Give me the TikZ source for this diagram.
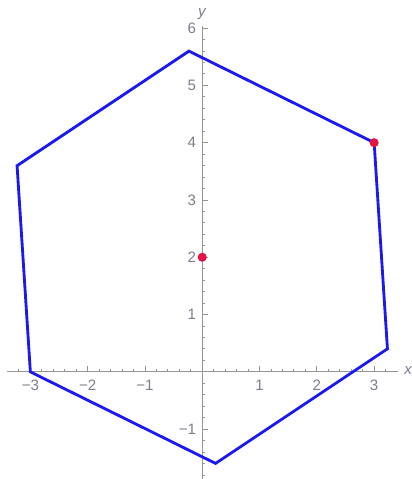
\documentclass[tikz,border=0pt]{standalone}
\usepackage{fontspec}
\setmainfont{Liberation Sans}
\usetikzlibrary{calc}
\definecolor{hexblue}{RGB}{25,25,240}
\definecolor{ptred}{RGB}{225,20,70}
\definecolor{axisgray}{RGB}{150,150,150}
\definecolor{labelgray}{RGB}{125,125,140}

\begin{document}
\begin{tikzpicture}[
    axis line/.style={draw=axisgray, line width=0.6pt},
    ticks/.style={draw=axisgray, line width=0.45pt},
    tick label/.style={font=\fontsize{7.5}{8}\selectfont, text=labelgray, inner sep=0pt},
    hexagon/.style={draw=hexblue, line width=1.4pt, line join=miter},
    pt/.style={circle, fill=ptred, minimum size=0.16cm, inner sep=0pt},
]
\useasboundingbox (-3.53,-1.87) rectangle (3.66,6.49);
% axes
\coordinate (xmin) at (-3.4,0);
\coordinate (xmax) at (3.42,0);
\coordinate (ymin) at (0,-1.9);
\coordinate (ymax) at (0,6.04);
\draw[axis line] (xmin) -- (xmax);
\draw[axis line] (ymin) -- (ymax);
\node[tick label, anchor=west] (xname) at ($(xmax)+(0.1,0.02)$) {\textit{x}};
\node[tick label, anchor=south] (yname) at ($(ymax)+(0,0.1)$) {\textit{y}};
% ticks
\foreach \x in {-3.2,-3.0,...,3.25}
    \draw[ticks] (\x,0) -- ++(0,0.05);
\foreach \y in {-1.8,-1.6,...,6.05}
    \draw[ticks] (0,\y) -- ++(0.05,0);
\foreach \x/\t in {-3/−3,-2/−2,-1/−1,1/1,2/2,3/3} {
    \draw[ticks] (\x,0) -- ++(0,0.1);
    \node[tick label] (xt\t) at (\x,-0.24) {\t};
}
\foreach \y/\t in {-1/−1,1/1,2/2,3/3,4/4,5/5,6/6} {
    \draw[ticks] (0,\y) -- ++(0.1,0);
    \node[tick label, anchor=east] (yt\t) at (-0.1,\y) {\t};
}
% hexagon
\coordinate (v1) at (3,4);
\coordinate (v2) at (-0.232,5.598);
\coordinate (v3) at (-3.232,3.598);
\coordinate (v4) at (-3,0);
\coordinate (v5) at (0.232,-1.598);
\coordinate (v6) at (3.232,0.402);
\draw[hexagon] (v1) -- (v2) -- (v3) -- (v4) -- (v5) -- (v6) -- cycle;
% points
\node[pt] (centre) at (0,2) {};
\node[pt] (corner) at (v1) {};
\end{tikzpicture}
\end{document}
